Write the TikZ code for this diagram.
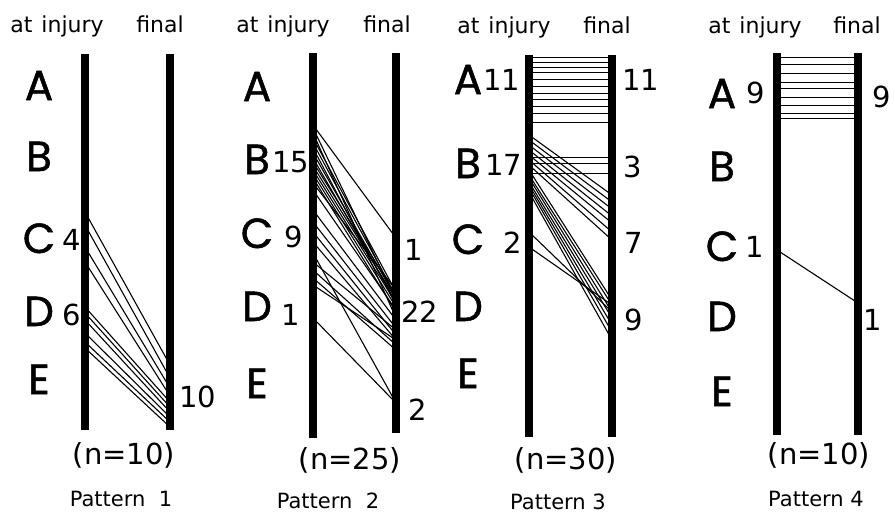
\documentclass[tikz,border=0pt]{standalone}
\usepackage{fontspec}
\setmainfont{DejaVu Sans}
\newfontfamily\letfont[FakeBold=1.2]{Poppins}
\begin{document}
\begin{tikzpicture}[x=1pt,y=-1pt,
  bar/.style={line width=8pt,line cap=butt},
  link/.style={line width=1.1pt},
  hline/.style={line width=0.9pt},
  lett/.style={font=\letfont\fontsize{42}{42}\selectfont,anchor=base,inner sep=0pt},
  num/.style={font=\fontsize{29}{29}\selectfont,anchor=base,inner sep=0pt},
  head/.style={font=\fontsize{22}{22}\selectfont,anchor=base,inner sep=0pt},
  patt/.style={font=\fontsize{21}{21}\selectfont,anchor=base,inner sep=0pt}]
\useasboundingbox (0,0) rectangle (895,514);
% ---------------- Pattern 1
\foreach \a/\b in {212/365,225/378,247/388,262/396,307/402,313/407,320/412,333/417,342/422,348/427}
  \draw[link] (85,\a) -- (170,\b);
\draw[bar] (85,54) -- (85,430);
\draw[bar] (170,54) -- (170,430);
\node[head] (h1a) at (57,32) {at\hspace{2pt} injury};
\node[head] (h1b) at (160,32) {final};
\node[lett] (p1A) at (39,100) {A};
\node[lett] (p1B) at (39,171) {B};
\node[lett] (p1C) at (39,253) {C};
\node[lett] (p1D) at (39,326) {D};
\node[lett] (p1E) at (39,394) {E};
\node[num] (p1c) at (72,250) {4};
\node[num] (p1d) at (72,325) {6};
\node[num] (p1e) at (198,407) {10};
\node[num] (p1n) at (124,464) {(n=10)};
\node[patt] (p1p) at (121,506) {Pattern\ \ 1};
% ---------------- Pattern 2
\foreach \a/\b in {125/238,128/300,133/318,138/292,143/296,148/305,153/298,158/302,162/295,166/299,170/303,174/307,178/312,183/290,190/310,
  210/320,222/328,232/335,242/340,262/330,270/345,278/350,285/340,253/403,318/403}
  \draw[link] (313,\a) -- (396,\b);
\draw[bar] (313,53) -- (313,438);
\draw[bar] (396,53) -- (396,433);
\node[head] (h2a) at (283,32) {at\hspace{2pt} injury};
\node[head] (h2b) at (387,32) {final};
\node[lett] (p2A) at (257,101) {A};
\node[lett] (p2B) at (257,174) {B};
\node[lett] (p2C) at (257,248) {C};
\node[lett] (p2D) at (257,321) {D};
\node[lett] (p2E) at (257,398) {E};
\node[num] (p2b) at (291,172) {15};
\node[num] (p2c) at (294,247) {9};
\node[num] (p2d) at (291,325) {1};
\node[num] (p2fc) at (414,260) {1};
\node[num] (p2fd) at (420,322) {22};
\node[num] (p2fe) at (418,420) {2};
\node[num] (p2n) at (350,469) {(n=25)};
\node[patt] (p2p) at (328,508) {Pattern\ \ 2};
% ---------------- Pattern 3
\foreach \a in {57,62,67,72,79,86,93,99,106,113,122,157,163,173}
  \draw[hline] (529,\a) -- (612,\a);
\foreach \a/\b in {135/195,140/202,145/209,150/216,155/223,160/232,165/240,
  170/300,175/305,178/312,182/318,185/325,188/332,192/340,232/312,247/305}
  \draw[link] (529,\a) -- (612,\b);
\draw[bar] (529,55) -- (529,437);
\draw[bar] (612,55) -- (612,437);
\node[head] (h3a) at (504,33) {at\hspace{2pt} injury};
\node[head] (h3b) at (607,33) {final};
\node[lett] (p3A) at (468,94) {A};
\node[lett] (p3B) at (468,178) {B};
\node[lett] (p3C) at (468,254) {C};
\node[lett] (p3D) at (468,321) {D};
\node[lett] (p3E) at (468,388) {E};
\node[num] (p3a) at (502,90) {11};
\node[num] (p3b) at (504,175) {17};
\node[num] (p3c) at (513,253) {2};
\node[num] (p3fa) at (641,90) {11};
\node[num] (p3fb) at (633,177) {3};
\node[num] (p3fc) at (634,253) {7};
\node[num] (p3fd) at (634,330) {9};
\node[num] (p3n) at (566,469) {(n=30)};
\node[patt] (p3p) at (558,509) {Pattern 3};
% ---------------- Pattern 4
\foreach \a in {57,64,73,82,88,97,105,113,118}
  \draw[hline] (777,\a) -- (858,\a);
\draw[link] (777,250) -- (858,303);
\draw[bar] (777,53) -- (777,435);
\draw[bar] (858,53) -- (858,435);
\node[head] (h4a) at (755,33) {at\hspace{2pt} injury};
\node[head] (h4b) at (857,33) {final};
\node[lett] (p4A) at (722,108) {A};
\node[lett] (p4B) at (722,181) {B};
\node[lett] (p4C) at (722,261) {C};
\node[lett] (p4D) at (722,331) {D};
\node[lett] (p4E) at (722,406) {E};
\node[num] (p4a) at (756,103) {9};
\node[num] (p4c) at (755,257) {1};
\node[num] (p4fa) at (882,107) {9};
\node[num] (p4fd) at (873,330) {1};
\node[num] (p4n) at (819,464) {(n=10)};
\node[patt] (p4p) at (816,506) {Pattern 4};
\end{tikzpicture}
\end{document}
